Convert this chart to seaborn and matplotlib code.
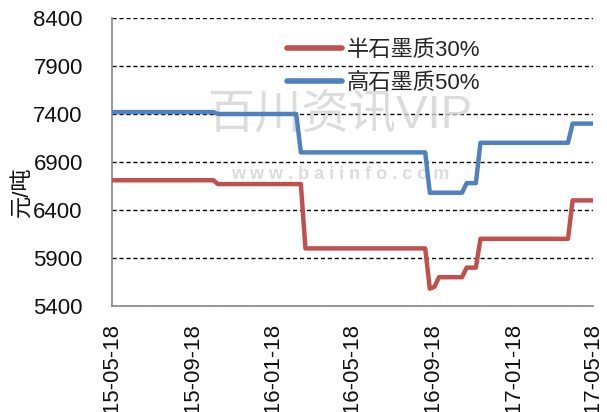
import matplotlib
matplotlib.use("Agg")
import matplotlib.pyplot as plt
import matplotlib.dates as mdates
import seaborn as sns
import pandas as pd

# ---- data ----
red_label = "半石墨质30%"
blue_label = "高石墨质50%"

red_dates = ["2015-05-18", "2015-10-19", "2015-10-26", "2016-02-29", "2016-03-07",
             "2016-09-05", "2016-09-12", "2016-09-19", "2016-09-26", "2016-10-31",
             "2016-11-07", "2016-11-21", "2016-11-28", "2017-04-10", "2017-04-17",
             "2017-05-18"]
red_values = [6710, 6710, 6670, 6670, 6000,
              6000, 5580, 5600, 5700, 5700,
              5800, 5800, 6100, 6100, 6500,
              6500]

blue_dates = ["2015-05-18", "2015-10-19", "2015-10-26", "2016-02-22", "2016-02-29",
              "2016-09-05", "2016-09-12", "2016-10-31", "2016-11-07", "2016-11-21",
              "2016-11-28", "2017-04-10", "2017-04-17", "2017-05-18"]
blue_values = [7420, 7420, 7400, 7400, 7000,
               7000, 6580, 6580, 6680, 6680,
               7100, 7100, 7300, 7300]

y_ticks = [5400, 5900, 6400, 6900, 7400, 7900, 8400]
x_ticks = ["2015-05-18", "2015-09-18", "2016-01-18", "2016-05-18",
           "2016-09-18", "2017-01-18", "2017-05-18"]
y_label = "元/吨"

df = pd.concat([
    pd.DataFrame({"date": pd.to_datetime(red_dates), "value": red_values, "series": red_label}),
    pd.DataFrame({"date": pd.to_datetime(blue_dates), "value": blue_values, "series": blue_label}),
], ignore_index=True)

sns.set_style("white")
plt.rcParams["font.family"] = ["Liberation Sans", "Noto Sans CJK SC", "DejaVu Sans"]

fig = plt.figure(figsize=(6.07, 4.12), dpi=100)
ax = fig.add_axes([112 / 607, 1 - 306 / 412, 481 / 607, 288 / 412])

sns.lineplot(data=df, x="date", y="value", hue="series",
             palette={red_label: "#C0504D", blue_label: "#4F81BD"},
             linewidth=3.2, ax=ax, legend=True, zorder=3)
for ln in ax.lines:
    ln.set_solid_capstyle("round")
    ln.set_solid_joinstyle("round")

ax.set_ylim(5400, 8400)
ax.set_yticks(y_ticks)
xt = pd.to_datetime(x_ticks)
ax.set_xlim(xt[0], xt[-1])
ax.set_xticks(xt)
ax.xaxis.set_major_formatter(mdates.DateFormatter("%Y-%m-%d"))
ax.tick_params(axis="x", direction="in", length=5, width=1, color="#888888",
               labelsize=16, pad=12, labelrotation=90, labelcolor="#111111")
for lab in ax.get_xticklabels():
    lab.set_verticalalignment("top")
ax.tick_params(axis="y", length=0, labelsize=16, pad=21, labelcolor="#111111")

ax.grid(axis="y", color="black", linestyle=(0, (3, 2)), linewidth=1.0)
ax.grid(axis="x", visible=False)
for s in ["top", "right"]:
    ax.spines[s].set_visible(False)
for s in ["left", "bottom"]:
    ax.spines[s].set_color("#888888")
    ax.spines[s].set_linewidth(1.2)

ax.set_xlabel("")
ax.set_ylabel("")
fig.text(22 / 607, 1 - 192 / 412, y_label, rotation=90, ha="center", va="center",
         fontsize=16, color="#111111")

# watermark
ax.text(0.475, 0.66, "百川资讯VIP", transform=ax.transAxes, fontsize=34,
        color="#d4d4d4", ha="center", va="center", zorder=1, alpha=0.8)
ax.text(0.475, 0.455, "w w w . b a i i n f o . c o m", transform=ax.transAxes, fontsize=13,
        color="#d4d4d4", ha="center", va="center", zorder=1, fontweight="bold", alpha=0.8)

leg = ax.legend(loc="upper left", bbox_to_anchor=(0.345, 0.955), frameon=False,
                fontsize=16, handlelength=2.5, handletextpad=0.2, labelspacing=0.55,
                borderaxespad=0)
for h in leg.get_lines():
    h.set_linewidth(4)
    h.set_solid_capstyle("round")

fig.savefig("out.png", dpi=100)
